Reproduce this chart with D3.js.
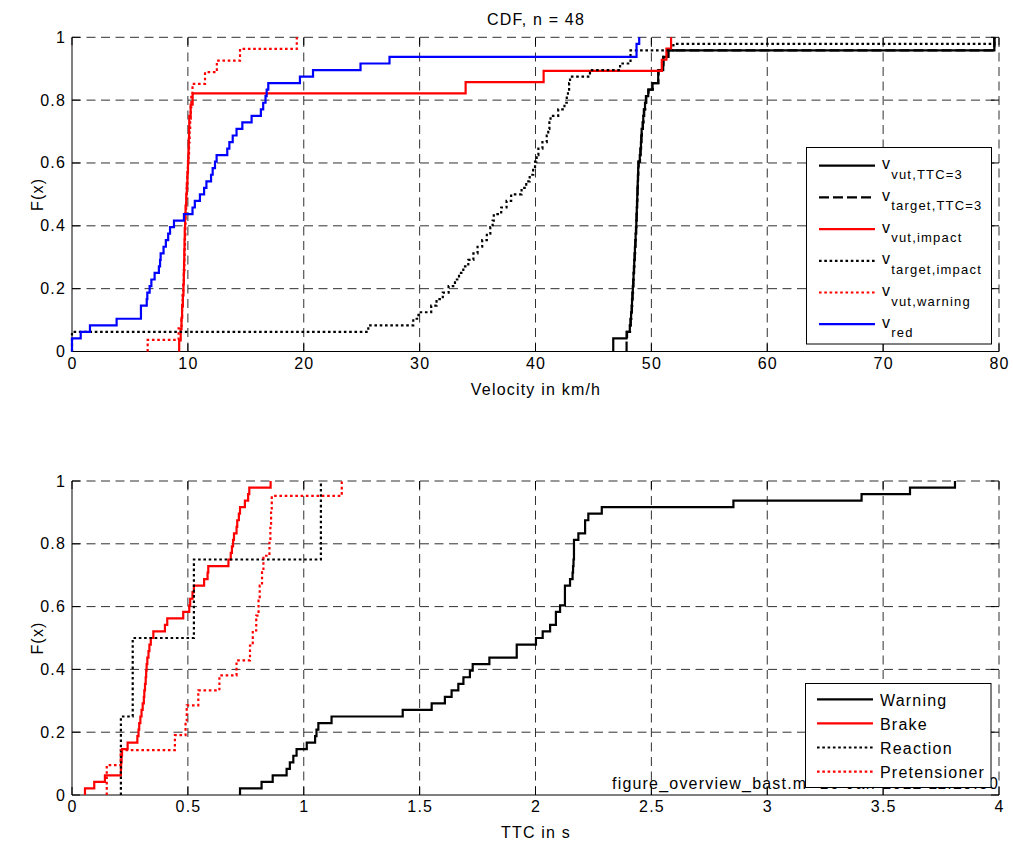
<!DOCTYPE html>
<html>
<head>
<meta charset="utf-8">
<script src="https://cdn.jsdelivr.net/npm/d3@7"></script>
<style>
  body { margin: 0; background: #fff; }
  svg text { font-family: "Liberation Sans", Arial, Helvetica, sans-serif; font-size: 16px; letter-spacing: 1.2px; fill: #000; }
</style>
</head>
<body>
<svg id="fig" width="1013" height="843"></svg>
<script>
// ---------- velocity samples, km/h ----------
const vVutTTC3 = [46.71, 46.71, 47.86, 48.14, 48.2, 48.25, 48.3, 48.33, 48.36, 48.4,
  48.43, 48.46, 48.49, 48.52, 48.55, 48.58, 48.61, 48.64, 48.67, 48.7, 48.72, 48.74,
  48.76, 48.78, 48.8, 48.82, 48.84, 48.86, 48.88, 49.0, 49.05, 49.1, 49.13, 49.16,
  49.25, 49.3, 49.35, 49.45, 49.53, 49.73, 50.1, 50.59, 50.59, 51.02, 51.02, 51.45, 79.6, 79.6];
const vTargetTTC3 = [47.86, 47.86, 47.9, 48.16, 48.22, 48.27, 48.32, 48.35, 48.38, 48.42,
  48.45, 48.48, 48.51, 48.54, 48.57, 48.6, 48.63, 48.66, 48.69, 48.71, 48.73, 48.75,
  48.77, 48.79, 48.81, 48.83, 48.85, 48.87, 48.9, 49.02, 49.07, 49.11, 49.14, 49.18,
  49.27, 49.32, 49.38, 49.47, 49.56, 49.76, 50.12, 50.6, 50.62, 51.04, 51.05, 51.47, 79.6, 79.6];
const vVutImpact = [9.25, 9.38, 9.45, 9.5, 9.57, 9.62, 9.65, 9.67, 9.69, 9.71, 9.73, 9.76,
  9.8, 9.86, 9.91, 9.96, 10.01, 10.05, 10.08, 10.1, 10.12, 10.24, 10.41,
  33.97, 40.7, 50.9, 51.3, 51.7];
const vTargetImpact = [0, 0, 0, 25.57, 29.45, 29.9, 31.0, 31.46, 32.0, 32.5, 33.05, 33.4,
  33.77, 34.2, 34.64, 35.0, 35.4, 35.8, 36.1, 36.3, 36.4, 37.04, 37.5, 37.9, 38.8, 39.2,
  39.5, 39.8, 39.96, 40.1, 40.25, 40.6, 40.97, 41.1, 41.2, 41.3, 41.96, 42.5, 42.7, 42.8,
  42.9, 42.98, 44.7, 47.3, 48.2, 48.2, 51.9, 79.6];
const vVutWarning = [6.53, 9.2, 9.45, 9.5, 9.55, 9.6, 9.65, 9.7, 9.72, 9.75, 9.78, 9.8,
  9.85, 9.9, 9.95, 10.0, 10.05, 10.1, 10.15, 10.2, 10.25, 10.3, 10.4,
  11.48, 12.5, 14.5, 19.4];
const vRed = [0, 0, 0.75, 1.55, 3.85, 5.95, 5.95, 6.45, 6.5, 6.7, 6.85, 7.13, 7.5, 7.6,
  7.65, 7.9, 8.1, 8.3, 8.46, 8.8, 9.66, 10.4, 10.6, 11.04, 11.4, 11.6, 12.0, 12.14, 12.34,
  12.48, 13.4, 13.58, 13.87, 14.2, 14.7, 15.5, 16.3, 16.5, 16.7, 16.8, 16.94, 19.67, 20.8,
  24.9, 27.4, 48.72, 48.72, 48.95];

// ---------- time-to-collision samples, s ----------
const ttcWarning = [0.725, 0.818, 0.866, 0.926, 0.94, 0.955, 0.969, 1.013, 1.049, 1.055,
  1.063, 1.12, 1.427, 1.552, 1.609, 1.638, 1.667, 1.689, 1.717, 1.729, 1.801, 1.919, 1.919,
  2.002, 2.031, 2.063, 2.088, 2.088, 2.106, 2.127, 2.127, 2.127, 2.149, 2.16, 2.162, 2.164,
  2.166, 2.166, 2.166, 2.185, 2.214, 2.214, 2.228, 2.286, 2.854, 3.407, 3.616, 3.81];
const ttcBrake = [0.056, 0.096, 0.142, 0.211, 0.212, 0.214, 0.216, 0.24, 0.282, 0.287,
  0.29, 0.295, 0.3, 0.305, 0.31, 0.312, 0.315, 0.318, 0.32, 0.322, 0.325, 0.33, 0.334,
  0.34, 0.351, 0.401, 0.411, 0.48, 0.506, 0.51, 0.52, 0.526, 0.57, 0.585, 0.588, 0.675,
  0.685, 0.69, 0.695, 0.699, 0.71, 0.713, 0.72, 0.725, 0.746, 0.76, 0.765, 0.857];
const ttcReaction = [0.211, 0.262, 0.526, 1.074];
const ttcPretensioner = [0.15, 0.15, 0.21, 0.444, 0.49, 0.495, 0.545, 0.636, 0.71,
  0.768, 0.78, 0.795, 0.805, 0.81, 0.82, 0.826, 0.852, 0.856, 0.859, 0.862, 1.164];

// ---------- axis ticks and labels ----------
const velocityTicks = [0, 10, 20, 30, 40, 50, 60, 70, 80];
const ttcTicks = [0, 0.5, 1, 1.5, 2, 2.5, 3, 3.5, 4];
const cdfTicks = [0, 0.2, 0.4, 0.6, 0.8, 1];

const topTitle = "CDF, n = 48";
const topXLabel = "Velocity in km/h";
const bottomXLabel = "TTC in s";
const yLabel = "F(x)";
const footerFile = "figure_overview_bast.m";
const footerDate = "16-Jan-2012 11:29:30";

// series: values, legend base, legend subscript, colour, line style
const velocitySeries = [
  { values: vVutTTC3,      base: "v", sub: "vut,TTC=3",      color: "#000000", style: "solid" },
  { values: vTargetTTC3,   base: "v", sub: "target,TTC=3",   color: "#000000", style: "dashed" },
  { values: vVutImpact,    base: "v", sub: "vut,impact",     color: "#ff0000", style: "solid" },
  { values: vTargetImpact, base: "v", sub: "target,impact",  color: "#000000", style: "dotted" },
  { values: vVutWarning,   base: "v", sub: "vut,warning",    color: "#ff0000", style: "dotted" },
  { values: vRed,          base: "v", sub: "red",            color: "#0000ff", style: "solid" }
];
const ttcSeries = [
  { values: ttcWarning,      label: "Warning",      color: "#000000", style: "solid" },
  { values: ttcBrake,        label: "Brake",        color: "#ff0000", style: "solid" },
  { values: ttcReaction,     label: "Reaction",     color: "#000000", style: "dotted" },
  { values: ttcPretensioner, label: "Pretensioner", color: "#ff0000", style: "dotted" }
];

const dashFor = { solid: null, dashed: "10,4", dotted: "2.6,2.7" };
const LW = 2.2;

const svg = d3.select("#fig");

// Empirical CDF as a step path: start at (x1, 0), step up by 1/n at each sample.
function ecdfPoints(values) {
  const s = values.slice().sort(d3.ascending);
  const n = s.length;
  const pts = [[s[0], 0]];
  s.forEach((v, i) => pts.push([v, (i + 1) / n]));
  return pts;
}

function drawAxes(g, x, y, xTicks, yTicks, xFmt) {
  const [x0, x1] = x.range();
  const [y0, y1] = y.range();
  const tickLen = 8;
  const grid = g.append("g").attr("stroke", "#1a1a1a").attr("stroke-width", 0.9)
    .attr("stroke-dasharray", "9,5.5").attr("fill", "none");
  xTicks.forEach(t => {
    if (t === xTicks[0]) return;
    grid.append("line").attr("x1", x(t)).attr("x2", x(t)).attr("y1", y0).attr("y2", y1);
  });
  yTicks.forEach(t => {
    if (t === yTicks[0]) return;
    grid.append("line").attr("x1", x0).attr("x2", x1).attr("y1", y(t)).attr("y2", y(t));
  });
  const tk = g.append("g").attr("stroke", "#000").attr("stroke-width", 1);
  xTicks.forEach(t => {
    tk.append("line").attr("x1", x(t)).attr("x2", x(t)).attr("y1", y0).attr("y2", y0 - tickLen);
    tk.append("line").attr("x1", x(t)).attr("x2", x(t)).attr("y1", y1).attr("y2", y1 + tickLen);
  });
  yTicks.forEach(t => {
    tk.append("line").attr("x1", x0).attr("x2", x0 + tickLen).attr("y1", y(t)).attr("y2", y(t));
    tk.append("line").attr("x1", x1).attr("x2", x1 - tickLen).attr("y1", y(t)).attr("y2", y(t));
  });
  tk.append("line").attr("x1", x0).attr("x2", x1).attr("y1", y0).attr("y2", y0);
  tk.append("line").attr("x1", x0).attr("x2", x0).attr("y1", y0).attr("y2", y1);

  g.append("g").selectAll("text").data(xTicks).join("text")
    .attr("x", d => x(d) + 0.6).attr("y", y0 + 17).attr("text-anchor", "middle")
    .text(xFmt);
  g.append("g").selectAll("text").data(yTicks).join("text")
    .attr("x", x0 - 6).attr("y", d => y(d) + 5.5).attr("text-anchor", "end")
    .text(d => String(d));
}

function drawSeries(g, x, y, series) {
  const line = d3.line().x(d => x(d[0])).y(d => y(d[1])).curve(d3.curveStepAfter);
  series.forEach(s => {
    g.append("path")
      .attr("d", line(ecdfPoints(s.values)))
      .attr("fill", "none")
      .attr("stroke", s.color)
      .attr("stroke-width", LW)
      .attr("stroke-dasharray", dashFor[s.style]);
  });
}

// ---------- upper panel: velocities ----------
const xV = d3.scaleLinear().domain([0, 80]).range([72, 999]);
const yV = d3.scaleLinear().domain([0, 1]).range([351.5, 37.3]);
const gTop = svg.append("g");
drawAxes(gTop, xV, yV, velocityTicks, cdfTicks, d => String(d));
drawSeries(gTop, xV, yV, velocitySeries);

gTop.append("text").attr("x", 536).attr("y", 25).attr("text-anchor", "middle").text(topTitle);
gTop.append("text").attr("x", 536).attr("y", 395).attr("text-anchor", "middle").text(topXLabel);
gTop.append("text").attr("transform", `translate(43,${(351.5 + 37.3) / 2}) rotate(-90)`)
  .attr("text-anchor", "middle").text(yLabel);

// legend, upper panel
const legTop = gTop.append("g");
legTop.append("rect").attr("x", 806.5).attr("y", 147.5).attr("width", 185).attr("height", 196.5)
  .attr("fill", "#fff").attr("stroke", "#000").attr("stroke-width", 1);
velocitySeries.forEach((s, i) => {
  const yy = 165.7 + i * 31.7;
  legTop.append("line").attr("x1", 819).attr("x2", 875).attr("y1", yy).attr("y2", yy)
    .attr("stroke", s.color).attr("stroke-width", LW).attr("stroke-dasharray", dashFor[s.style]);
  const t = legTop.append("text").attr("x", 882).attr("y", yy + 3.5);
  t.append("tspan").text(s.base);
  t.append("tspan").attr("dy", 9.5).attr("font-size", "13px").text(s.sub);
});

// ---------- lower panel: time to collision ----------
const xT = d3.scaleLinear().domain([0, 4]).range([72, 999]);
const yT = d3.scaleLinear().domain([0, 1]).range([795, 481]);
const gBot = svg.append("g");
drawAxes(gBot, xT, yT, ttcTicks, cdfTicks, d => String(d));
drawSeries(gBot, xT, yT, ttcSeries);

gBot.append("text").attr("x", 536).attr("y", 838).attr("text-anchor", "middle").text(bottomXLabel);
gBot.append("text").attr("transform", `translate(43,${(795 + 481) / 2}) rotate(-90)`)
  .attr("text-anchor", "middle").text(yLabel);

// file stamp along the lower axis
gBot.append("text").attr("x", 612).attr("y", 789).text(footerFile);
gBot.append("text").attr("x", 999).attr("y", 789).attr("text-anchor", "end").text(footerDate);

// legend, lower panel
const legBot = gBot.append("g");
legBot.append("rect").attr("x", 805.5).attr("y", 683.5).attr("width", 185.5).attr("height", 104)
  .attr("fill", "#fff").attr("stroke", "#000").attr("stroke-width", 1);
ttcSeries.forEach((s, i) => {
  const yy = 699.3 + i * 24.1;
  legBot.append("line").attr("x1", 817).attr("x2", 873).attr("y1", yy).attr("y2", yy)
    .attr("stroke", s.color).attr("stroke-width", LW).attr("stroke-dasharray", dashFor[s.style]);
  legBot.append("text").attr("x", 880).attr("y", yy + 6.5).text(s.label);
});
</script>
</body>
</html>
